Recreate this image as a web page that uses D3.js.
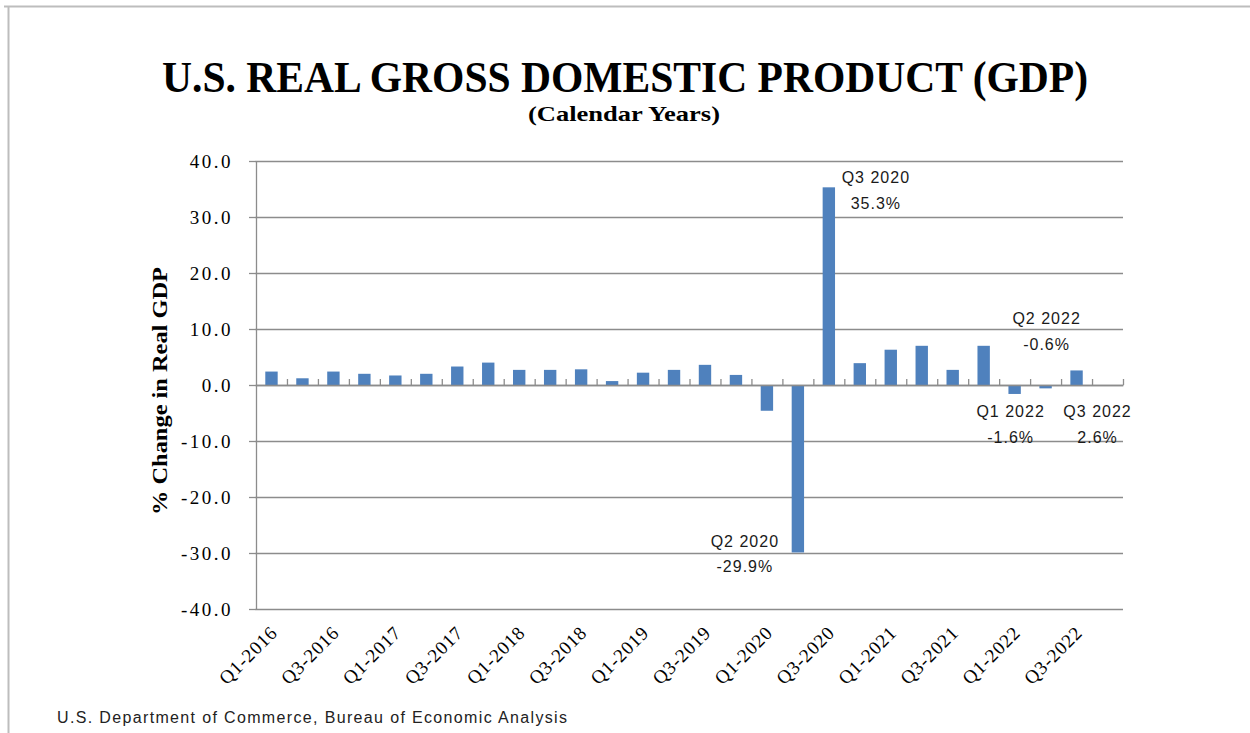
<!DOCTYPE html>
<html>
<head>
<meta charset="utf-8">
<script src="https://cdn.jsdelivr.net/npm/d3@7"></script>
<style>
  html, body { margin: 0; padding: 0; background: #ffffff; }
  svg { display: block; }
</style>
</head>
<body>
<svg id="chart" width="1250" height="733"></svg>
<script>
// ---------------- DATA ----------------
const categories = [
  "Q1-2016","Q2-2016","Q3-2016","Q4-2016",
  "Q1-2017","Q2-2017","Q3-2017","Q4-2017",
  "Q1-2018","Q2-2018","Q3-2018","Q4-2018",
  "Q1-2019","Q2-2019","Q3-2019","Q4-2019",
  "Q1-2020","Q2-2020","Q3-2020","Q4-2020",
  "Q1-2021","Q2-2021","Q3-2021","Q4-2021",
  "Q1-2022","Q2-2022","Q3-2022","Q4-2022"
];
const gdpChange = [
  2.4, 1.2, 2.4, 2.0,
  1.7, 2.0, 3.3, 4.0,
  2.7, 2.7, 2.8, 0.7,
  2.2, 2.7, 3.6, 1.8,
  -4.6, -29.9, 35.3, 3.9,
  6.3, 7.0, 2.7, 7.0,
  -1.6, -0.6, 2.6, null
];
const xTickLabels = [
  "Q1-2016","Q3-2016","Q1-2017","Q3-2017","Q1-2018","Q3-2018","Q1-2019",
  "Q3-2019","Q1-2020","Q3-2020","Q1-2021","Q3-2021","Q1-2022","Q3-2022"
];
const yTicks = [-40, -30, -20, -10, 0, 10, 20, 30, 40];
const annotationCats = ["Q2-2020", "Q3-2020", "Q1-2022", "Q2-2022", "Q3-2022"];
const annotationTitles = ["Q2 2020", "Q3 2020", "Q1 2022", "Q2 2022", "Q3 2022"];
const annotationValues = ["-29.9%", "35.3%", "-1.6%", "-0.6%", "2.6%"];

const titleText = "U.S. REAL GROSS DOMESTIC PRODUCT (GDP)";
const subtitleText = "(Calendar Years)";
const yAxisTitle = "% Change in Real GDP";
const sourceText = "U.S. Department of Commerce, Bureau of Economic Analysis";

// ---------------- LAYOUT ----------------
const svg = d3.select("#chart");
const plot = { left: 256, right: 1123, top: 161, bottom: 609 };
const barColor = "#4F81BD";
const gridColor = "#8c8c8c";
const serif = "'Liberation Serif', 'Times New Roman', serif";
const sans = "'Liberation Sans', Arial, sans-serif";

svg.append("rect").attr("width", 1250).attr("height", 733).attr("fill", "#fff");

// frame
svg.append("line").attr("x1", 4).attr("x2", 1250).attr("y1", 6.5).attr("y2", 6.5)
  .attr("stroke", "#bdbdbd").attr("stroke-width", 2);
svg.append("line").attr("x1", 8.5).attr("x2", 8.5).attr("y1", 6).attr("y2", 733)
  .attr("stroke", "#bdbdbd").attr("stroke-width", 2);

const x = d3.scaleBand().domain(categories).range([plot.left, plot.right]).padding(0);
const y = d3.scaleLinear().domain([-40, 40]).range([plot.bottom, plot.top]);
const idx = d3.scaleLinear().domain([0, categories.length]).range([plot.left, plot.right]);

// gridlines
svg.append("g")
  .attr("transform", `translate(${plot.left},0)`)
  .call(d3.axisLeft(y).tickValues(yTicks).tickSize(-(plot.right - plot.left)).tickFormat(""))
  .call(g => g.select(".domain").remove())
  .call(g => g.selectAll("line").attr("stroke", gridColor).attr("stroke-width", 1.3));

// y axis
const yAxis = svg.append("g")
  .attr("transform", `translate(${plot.left},0)`)
  .call(d3.axisLeft(y).tickValues(yTicks).tickSize(7).tickSizeOuter(0).tickFormat(d => d.toFixed(1)));
yAxis.select(".domain").attr("stroke", gridColor).attr("stroke-width", 1.3);
yAxis.selectAll("line").attr("stroke", gridColor).attr("stroke-width", 1.3);
yAxis.selectAll("text")
  .attr("x", -23)
  .attr("dy", "0.35em")
  .style("font-family", serif)
  .style("font-size", "19px")
  .style("letter-spacing", "2.5px")
  .attr("fill", "#000");

// bars
const barW = x.bandwidth() * 0.4;
svg.append("g").selectAll("rect")
  .data(categories.map((c, i) => ({ c, v: gdpChange[i] })).filter(d => d.v !== null))
  .join("rect")
  .attr("x", d => x(d.c) + (x.bandwidth() - barW) / 2)
  .attr("width", barW)
  .attr("y", d => y(Math.max(0, d.v)))
  .attr("height", d => Math.abs(y(d.v) - y(0)))
  .attr("fill", barColor);

// category axis at zero (ticks between categories, pointing up)
const xAxis = svg.append("g")
  .attr("transform", `translate(0,${y(0)})`)
  .call(d3.axisTop(idx).tickValues(d3.range(1, categories.length + 1)).tickSize(6).tickSizeOuter(0).tickFormat(""));
xAxis.select(".domain").attr("stroke", gridColor).attr("stroke-width", 1.3);
xAxis.selectAll("line").attr("stroke", gridColor).attr("stroke-width", 1.3);

// category labels below plot
const xLab = svg.append("g")
  .attr("transform", `translate(0,${plot.bottom})`)
  .call(d3.axisBottom(x).tickValues(xTickLabels).tickSize(0));
xLab.select(".domain").remove();
xLab.selectAll("text")
  .attr("text-anchor", "end")
  .attr("y", 0).attr("dy", 0)
  .attr("transform", "translate(7,25) rotate(-45)")
  .style("font-family", serif)
  .style("font-size", "19px")
  .style("letter-spacing", "0.8px")
  .attr("fill", "#000");

// annotations
const annOffsets = {
  "Q2-2020": { dx: -53, ref: -29.9, dy1: -5, dy2: 20 },
  "Q3-2020": { dx: 47, ref: 35.3, dy1: -4, dy2: 22 },
  "Q1-2022": { dx: -4, ref: 0, dy1: 32, dy2: 58 },
  "Q2-2022": { dx: 1, ref: 0, dy1: -61, dy2: -35 },
  "Q3-2022": { dx: 21, ref: 0, dy1: 32, dy2: 58 }
};
const ann = svg.append("g")
  .style("font-family", sans).style("font-size", "16px").style("letter-spacing", "1px")
  .attr("fill", "#1a1a1a").attr("text-anchor", "middle");
annotationCats.forEach((c, i) => {
  const o = annOffsets[c];
  const cx = x(c) + x.bandwidth() / 2 + o.dx;
  ann.append("text").attr("x", cx).attr("y", y(o.ref) + o.dy1).text(annotationTitles[i]);
  ann.append("text").attr("x", cx).attr("y", y(o.ref) + o.dy2).text(annotationValues[i]);
});

// titles
svg.append("text")
  .attr("x", 625).attr("y", 92)
  .attr("text-anchor", "middle")
  .attr("textLength", 926).attr("lengthAdjust", "spacingAndGlyphs")
  .style("font-family", serif).style("font-weight", "bold").style("font-size", "44px")
  .text(titleText);
svg.append("text")
  .attr("x", 624).attr("y", 121)
  .attr("text-anchor", "middle")
  .attr("textLength", 192).attr("lengthAdjust", "spacingAndGlyphs")
  .style("font-family", serif).style("font-weight", "bold").style("font-size", "22px")
  .text(subtitleText);

// y axis title
svg.append("text")
  .attr("transform", "translate(167,391) rotate(-90)")
  .attr("text-anchor", "middle")
  .attr("textLength", 248).attr("lengthAdjust", "spacingAndGlyphs")
  .style("font-family", serif).style("font-weight", "bold").style("font-size", "22px")
  .text(yAxisTitle);

// source
svg.append("text")
  .attr("x", 57).attr("y", 723)
  .style("font-family", sans).style("font-size", "16px")
  .style("letter-spacing", "1.35px")
  .attr("fill", "#222")
  .text(sourceText);
</script>
</body>
</html>
